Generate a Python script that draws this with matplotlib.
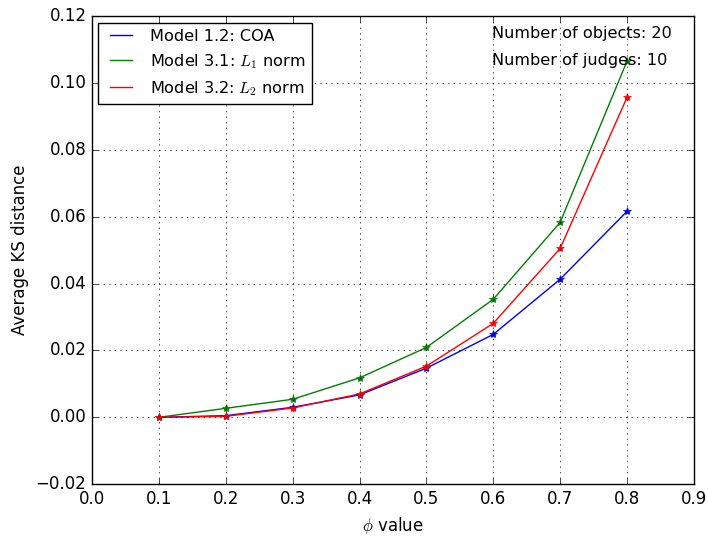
import numpy as np
import matplotlib
matplotlib.use('Agg')
import matplotlib.pyplot as plt

plt.style.use('classic')

phi = [0.1, 0.2, 0.3, 0.4, 0.5, 0.6, 0.7, 0.8]
coa = [0.0, 0.0005, 0.0030, 0.0067, 0.0147, 0.0248, 0.0413, 0.0616]
l1 = [0.0, 0.0027, 0.0054, 0.0118, 0.0209, 0.0353, 0.0583, 0.1065]
l2 = [0.0, 0.0003, 0.0028, 0.0070, 0.0153, 0.0281, 0.0505, 0.0957]

fig = plt.figure(figsize=(7.08, 5.38), dpi=100)
ax = fig.add_axes([0.130, 0.100, 0.850, 0.870])

# lignes avec label, marqueurs a part (legende sans etoiles)
ax.plot(phi, coa, 'b-', label='Model 1.2: COA')
ax.plot(phi, l1, 'g-', label='Model 3.1: $L_1$ norm')
ax.plot(phi, l2, 'r-', label='Model 3.2: $L_2$ norm')
ax.plot(phi, coa, 'b*', markeredgecolor='b')
ax.plot(phi, l1, 'g*', markeredgecolor='g')
ax.plot(phi, l2, 'r*', markeredgecolor='r')

ax.text(0.598, 0.1149, 'Number of objects: 20', va='center', fontsize=11.6)
ax.text(0.598, 0.1068, 'Number of judges: 10', va='center', fontsize=11.6)

ax.set_xlim(0.0, 0.9)
ax.set_ylim(-0.02, 0.12)
ax.set_xlabel(r'$\phi$ value')
ax.set_ylabel('Average KS distance')
ax.grid(True)
ax.legend(loc='upper left', fontsize=11.6, borderaxespad=0.4)

fig.savefig('out.png', dpi=100)
